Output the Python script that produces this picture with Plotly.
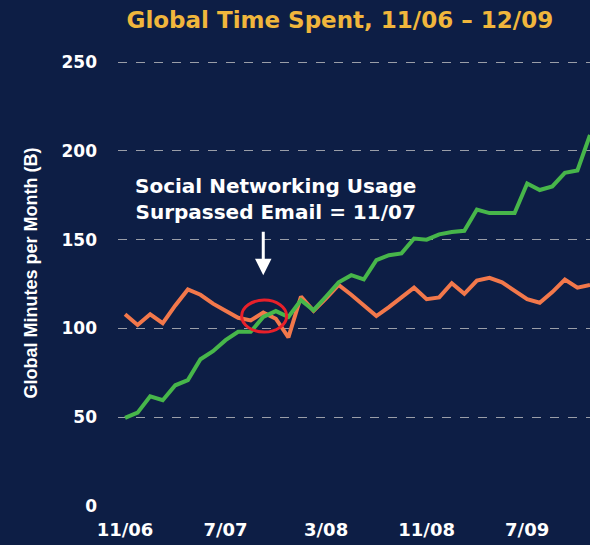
import plotly.graph_objects as go

months = ["11/06", "12/06", "1/07", "2/07", "3/07", "4/07", "5/07", "6/07",
          "7/07", "8/07", "9/07", "10/07", "11/07", "12/07", "1/08", "2/08",
          "3/08", "4/08", "5/08", "6/08", "7/08", "8/08", "9/08", "10/08",
          "11/08", "12/08", "1/09", "2/09", "3/09", "4/09", "5/09", "6/09",
          "7/09", "8/09", "9/09", "10/09", "11/09", "12/09"]

social_networking = [49.6, 52.6, 61.8, 59.6, 68, 70.9, 82.7, 87.2, 93.4, 98.1,
                     98.1, 106.5, 109.8, 106.5, 116, 110.3, 118, 126, 130, 127.6,
                     138.5, 141.3, 142.3, 150.7, 150, 153, 154.3, 155, 167, 165,
                     165, 165, 181.7, 178, 180, 187.7, 189, 209]

email = [108, 102, 108, 103, 113, 122, 119, 114, 110, 106,
         104.5, 109, 105.5, 95, 118, 110, 117, 124.5, 119, 113,
         107, 112, 117.5, 123, 116.5, 117.5, 125.5, 119.5, 127, 128.5,
         126, 121, 116.5, 114.5, 120.5, 127.5, 123, 124.5]

tick_labels = ["11/06", "7/07", "3/08", "11/08", "7/09"]
y_ticks = [0, 50, 100, 150, 200, 250]

BG = "#0d1e45"
font_wide = "DejaVu Sans, Verdana, sans-serif"

fig = go.Figure()
fig.add_trace(go.Scatter(x=months, y=email, mode="lines",
                         line=dict(color="#f2784b", width=4), name="Email"))
fig.add_trace(go.Scatter(x=months, y=social_networking, mode="lines",
                         line=dict(color="#47b64a", width=4), name="Social Networking"))

# red circle around the crossover point
fig.add_shape(type="circle", xref="x", yref="y",
              x0=9.28, x1=12.86, y0=98, y1=116,
              line=dict(color="#e8202a", width=3))

# annotation text
fig.add_annotation(x=12.0, y=173, xref="x", yref="y",
                   text="<b>Social Networking Usage<br>Surpassed Email = 11/07</b>",
                   showarrow=False, font=dict(color="white", size=20, family=font_wide),
                   align="center")
# arrow
fig.add_annotation(x=11.0, y=130, xref="x", yref="y", ax=0, ay=-45,
                   text="", showarrow=True, arrowhead=2, arrowsize=1.1,
                   arrowwidth=3, arrowcolor="white")

fig.update_layout(
    width=590, height=545,
    paper_bgcolor=BG, plot_bgcolor=BG,
    margin=dict(l=118, r=0, t=40, b=39),
    showlegend=False,
    title=dict(text="<b>Global Time Spent, 11/06 \u2013 12/09</b>",
               font=dict(color="#f0b63c", size=23, family=font_wide),
               x=0.576, xanchor="center", y=0.963, yanchor="middle"),
    xaxis=dict(type="category", range=[-0.56, 37], showgrid=False,
               zeroline=False, showline=False,
               tickvals=tick_labels, ticktext=tick_labels,
               ticklabelstandoff=11,
               tickfont=dict(color="white", size=18, family=font_wide, weight="bold"),
               ),
    yaxis=dict(range=[0, 262.5], tickvals=y_ticks,
               showgrid=True, gridcolor="#9a9ea8", griddash="dash", gridwidth=1,
               zeroline=False, showline=False,
               ticklabelstandoff=20,
               tickfont=dict(color="white", size=17, family=font_wide, weight="bold"),
               title=dict(text="Global Minutes per Month (B)",
                          font=dict(color="white", size=18, weight="bold",
                                    family="Liberation Sans Narrow, Arial Narrow, sans-serif"),
                          standoff=19)),
)

fig.write_html("out.html", config={"displayModeBar": False},
               post_script="document.body.style.margin='0';")
